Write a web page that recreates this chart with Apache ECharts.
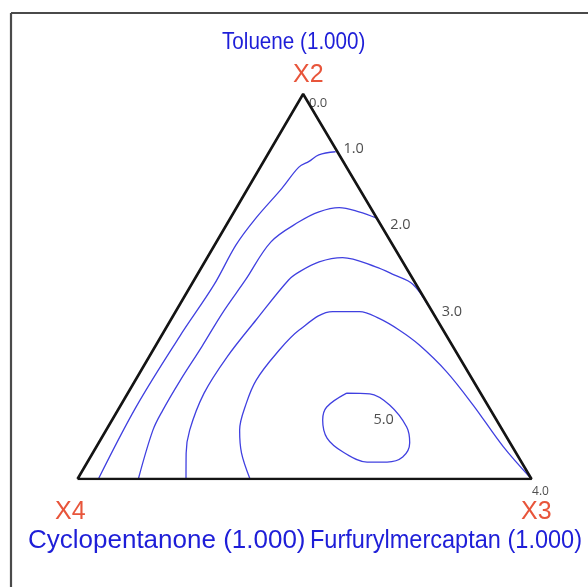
<!DOCTYPE html>
<html>
<head>
<meta charset="utf-8">
<script src="https://cdn.jsdelivr.net/npm/echarts@6/dist/echarts.min.js"></script>
<style>
  html, body { margin: 0; padding: 0; background: #fff; }
  #chart { width: 588px; height: 587px; }
</style>
</head>
<body>
<div id="chart"></div>
<script>
// Mixture components at the three corners of the simplex
const componentNames = ['Toluene (1.000)', 'Cyclopentanone (1.000)', 'Furfurylmercaptan (1.000)'];
const vertexTags = ['X2', 'X4', 'X3'];

// Contour levels and where each level's label sits, as [X2, X3] fractions (X4 = 1 - X2 - X3)
const levels = [0.0, 1.0, 2.0, 3.0, 4.0, 5.0];
const levelLabelAt = [
  [1.000, 0.000],
  [0.850, 0.146],
  [0.677, 0.324],
  [0.452, 0.547],
  [0.000, 1.000],
  [0.153, 0.596]
];

// Contour lines, each point as [X2, X3]
const contour1 = [
  [0.850, 0.146], [0.842, 0.113], [0.825, 0.100], [0.810, 0.085], [0.755, 0.075],
  [0.677, 0.056], [0.608, 0.047], [0.504, 0.050], [0.370, 0.041], [0.188, 0.036],
  [0.000, 0.046]
];
const contour2 = [
  [0.677, 0.324], [0.694, 0.275], [0.705, 0.226], [0.694, 0.187], [0.668, 0.156],
  [0.616, 0.120], [0.517, 0.113], [0.431, 0.105], [0.344, 0.103], [0.257, 0.099],
  [0.179, 0.099], [0.127, 0.103], [0.000, 0.134]
];
const contour3 = [
  [0.452, 0.547], [0.506, 0.487], [0.530, 0.434], [0.551, 0.383], [0.575, 0.298],
  [0.564, 0.252], [0.538, 0.221], [0.517, 0.208], [0.413, 0.188], [0.318, 0.172],
  [0.223, 0.168], [0.127, 0.184], [0.067, 0.206], [0.000, 0.239]
];
const contour4 = [
  [0.000, 0.380], [0.067, 0.328], [0.127, 0.294], [0.197, 0.274], [0.257, 0.266],
  [0.326, 0.276], [0.387, 0.296], [0.435, 0.346], [0.435, 0.405], [0.417, 0.457],
  [0.387, 0.516], [0.348, 0.580], [0.279, 0.674], [0.192, 0.776], [0.084, 0.896],
  [0.000, 1.000]
];
const contour5 = [
  [0.223, 0.482], [0.221, 0.534], [0.192, 0.592], [0.135, 0.658], [0.094, 0.685],
  [0.057, 0.688], [0.044, 0.660], [0.044, 0.616], [0.070, 0.550], [0.106, 0.497],
  [0.153, 0.464], [0.187, 0.456], [0.223, 0.482]
];
const contours = [contour1, contour2, contour3, contour4, contour5];

// Outline of the simplex: X4 corner, X3 corner, X2 corner
const simplexCorners = [[0, 0], [0, 1], [1, 0], [0, 0]];

// Ternary fractions -> plane: X2 is height, X3 runs along the base
const SKEW = 0.497;
const toXY = p => [p[1] + SKEW * p[0], p[0]];

const chart = echarts.init(document.getElementById('chart'), null, { renderer: 'canvas' });

const series = [];
series.push({
  type: 'line',
  data: simplexCorners.map(toXY),
  showSymbol: false,
  silent: true,
  z: 5,
  lineStyle: { color: '#141414', width: 2.6 }
});
contours.forEach(c => {
  series.push({
    type: 'line',
    data: c.map(toXY),
    showSymbol: false,
    smooth: 0.35,
    silent: true,
    z: 3,
    lineStyle: { color: '#4040e0', width: 1.3 }
  });
});

// Level labels placed beside each contour
const labelOffsets = [[15, 9], [18, -3], [23, 7], [24, 7], [9, 13], [1, 0]];
const labelSizes = [13, 14.5, 14.5, 14.5, 12, 14.5];
series.push({
  type: 'scatter',
  symbolSize: 0,
  silent: true,
  z: 6,
  data: levels.map((v, i) => ({
    value: toXY(levelLabelAt[i]),
    label: {
      show: true,
      formatter: v.toFixed(1),
      position: 'inside',
      offset: labelOffsets[i],
      color: '#222',
      fontSize: labelSizes[i],
      fontFamily: 'Open Sans, DejaVu Sans, sans-serif'
    }
  }))
});

const blue = '#1e1ed8';
const red = '#e8553b';
const sans = '"Liberation Sans", Arial, sans-serif';

chart.setOption({
  animation: false,
  backgroundColor: '#fff',
  grid: { left: 77.5, top: 94, width: 454, height: 385 },
  xAxis: { type: 'value', min: 0, max: 1, show: false },
  yAxis: { type: 'value', min: 0, max: 1, show: false },
  series: series,
  graphic: [
    { type: 'line', shape: { x1: 11, y1: 13, x2: 588, y2: 13 }, style: { stroke: '#4a4a4a', lineWidth: 2.2 } },
    { type: 'line', shape: { x1: 11, y1: 13, x2: 11, y2: 587 }, style: { stroke: '#4a4a4a', lineWidth: 2.2 } },
    { type: 'text', x: 222, y: 30, scaleX: 0.86, style: { text: componentNames[0], fill: blue, font: '24px ' + sans } },
    { type: 'text', x: 293, y: 63, style: { text: vertexTags[0], fill: red, font: '25px ' + sans } },
    { type: 'text', x: 55, y: 500, style: { text: vertexTags[1], fill: red, font: '25px ' + sans } },
    { type: 'text', x: 521, y: 500, style: { text: vertexTags[2], fill: red, font: '25px ' + sans } },
    { type: 'text', x: 28, y: 528, style: { text: componentNames[1], fill: blue, font: '26px ' + sans } },
    { type: 'text', x: 310, y: 528, scaleX: 0.905, style: { text: componentNames[2], fill: blue, font: '26px ' + sans } }
  ]
});
</script>
</body>
</html>
